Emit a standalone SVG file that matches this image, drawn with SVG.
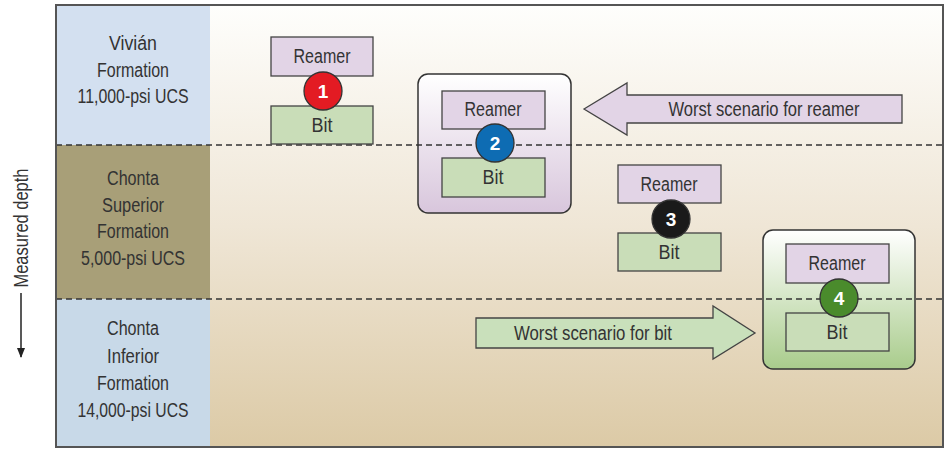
<svg xmlns="http://www.w3.org/2000/svg" width="946" height="451" viewBox="0 0 946 451">
<defs>
<linearGradient id="bg" x1="0" y1="0" x2="0" y2="1">
<stop offset="0" stop-color="#fefefc"/>
<stop offset="0.5" stop-color="#efe6d6"/>
<stop offset="1" stop-color="#dccaa6"/>
</linearGradient>
<linearGradient id="gPurple" x1="0" y1="0" x2="0" y2="1">
<stop offset="0" stop-color="#ffffff"/>
<stop offset="1" stop-color="#d8c6dc"/>
</linearGradient>
<linearGradient id="gGreen" x1="0" y1="0" x2="0" y2="1">
<stop offset="0" stop-color="#ffffff"/>
<stop offset="1" stop-color="#a9cc8c"/>
</linearGradient>
<marker id="ah" markerWidth="10" markerHeight="10" refX="9" refY="5" orient="auto" markerUnits="userSpaceOnUse" viewBox="0 0 10 10">
<path d="M0,1 L10,5 L0,9 Z" fill="#222"/>
</marker>
</defs>
<style>
text{font-family:"Liberation Sans",Arial,sans-serif;fill:#333;}
.lbl{font-size:20px;text-anchor:middle;}
.box{stroke:#444;stroke-width:1.3;}
.reamer{fill:#e2d4e6;}
.bit{fill:#c9ddb8;}
.num{font-size:19px;font-weight:bold;fill:#fff;text-anchor:middle;}
.circ{stroke:#333;stroke-width:1.3;}
.dash{stroke:#333;stroke-width:1.3;stroke-dasharray:6 4;fill:none;}
.outer{stroke:#333;stroke-width:1.5;}
.arrow{stroke:#444;stroke-width:1.3;}
</style>

<g id="background">
<rect x="56" y="5" width="887" height="442" fill="url(#bg)"/>
<rect x="56" y="5" width="154" height="140" fill="#d3e0f0"/>
<rect x="56" y="145" width="154" height="154" fill="#a89f78"/>
<rect x="56" y="299" width="154" height="148" fill="#c8d9e8"/>
</g>

<g id="formation-vivian">
<text class="lbl" x="133" y="50" textLength="48" lengthAdjust="spacingAndGlyphs">Vivián</text>
<text class="lbl" x="133" y="77" textLength="72" lengthAdjust="spacingAndGlyphs">Formation</text>
<text class="lbl" x="133" y="103" textLength="111" lengthAdjust="spacingAndGlyphs">11,000-psi UCS</text>
</g>
<g id="formation-chonta-superior">
<text class="lbl" x="133" y="185" textLength="52" lengthAdjust="spacingAndGlyphs">Chonta</text>
<text class="lbl" x="133" y="212" textLength="62" lengthAdjust="spacingAndGlyphs">Superior</text>
<text class="lbl" x="133" y="238" textLength="72" lengthAdjust="spacingAndGlyphs">Formation</text>
<text class="lbl" x="133" y="265" textLength="104" lengthAdjust="spacingAndGlyphs">5,000-psi UCS</text>
</g>
<g id="formation-chonta-inferior">
<text class="lbl" x="133" y="335" textLength="52" lengthAdjust="spacingAndGlyphs">Chonta</text>
<text class="lbl" x="133" y="363" textLength="52" lengthAdjust="spacingAndGlyphs">Inferior</text>
<text class="lbl" x="133" y="390" textLength="72" lengthAdjust="spacingAndGlyphs">Formation</text>
<text class="lbl" x="133" y="417" textLength="111" lengthAdjust="spacingAndGlyphs">14,000-psi UCS</text>
</g>

<g id="measured-depth">
<text class="lbl" x="0" y="0" transform="translate(28,228) rotate(-90)" textLength="119" lengthAdjust="spacingAndGlyphs">Measured depth</text>
<line x1="21" y1="293" x2="21" y2="357" stroke="#222" stroke-width="1.5" marker-end="url(#ah)"/>
</g>

<g id="case2">
<rect class="outer" x="418" y="74" width="153" height="139" rx="10" fill="url(#gPurple)"/>
</g>
<g id="case4">
<rect class="outer" x="763" y="230" width="152" height="139" rx="10" fill="url(#gGreen)"/>
</g>

<g id="connectors">
<line class="dash" x1="56" y1="145" x2="943" y2="145"/>
<line class="dash" x1="56" y1="299" x2="943" y2="299"/>
</g>

<g id="frame">
<rect x="56" y="5" width="887" height="442" fill="none" stroke="#555" stroke-width="2"/>
</g>

<g id="case1-nodes">
<rect class="box reamer" x="271" y="37" width="102" height="39"/>
<text class="lbl" x="322" y="63" textLength="57" lengthAdjust="spacingAndGlyphs">Reamer</text>
<rect class="box bit" x="271" y="106" width="102" height="38"/>
<text class="lbl" x="322" y="132" textLength="21" lengthAdjust="spacingAndGlyphs">Bit</text>
<circle class="circ" cx="323" cy="91" r="19" fill="#e31b23"/>
<text class="num" x="323" y="98">1</text>
</g>

<g id="case2-nodes">
<rect class="box reamer" x="442" y="91" width="103" height="38"/>
<text class="lbl" x="493" y="116" textLength="57" lengthAdjust="spacingAndGlyphs">Reamer</text>
<rect class="box bit" x="442" y="158" width="103" height="39"/>
<text class="lbl" x="493" y="184" textLength="21" lengthAdjust="spacingAndGlyphs">Bit</text>
<circle class="circ" cx="495" cy="143" r="19" fill="#0e6cb3"/>
<text class="num" x="495" y="150">2</text>
</g>

<g id="case3-nodes">
<rect class="box reamer" x="618" y="165" width="103" height="38"/>
<text class="lbl" x="669" y="191" textLength="57" lengthAdjust="spacingAndGlyphs">Reamer</text>
<rect class="box bit" x="618" y="233" width="103" height="38"/>
<text class="lbl" x="669" y="259" textLength="21" lengthAdjust="spacingAndGlyphs">Bit</text>
<circle class="circ" cx="671" cy="219" r="19" fill="#1a1a1a"/>
<text class="num" x="671" y="226">3</text>
</g>

<g id="case4-nodes">
<rect class="box reamer" x="786" y="244" width="103" height="39"/>
<text class="lbl" x="837" y="270" textLength="57" lengthAdjust="spacingAndGlyphs">Reamer</text>
<rect class="box bit" x="786" y="313" width="103" height="38"/>
<text class="lbl" x="837" y="339" textLength="21" lengthAdjust="spacingAndGlyphs">Bit</text>
<circle class="circ" cx="839" cy="298" r="19" fill="#4a8b2c"/>
<text class="num" x="839" y="305">4</text>
</g>

<g id="arrow-reamer">
<path class="arrow" d="M584,109 L627,83 L627,95 L902,95 L902,123 L627,123 L627,135 Z" fill="#e2d4e6"/>
<text class="lbl" x="764" y="116" textLength="191" lengthAdjust="spacingAndGlyphs">Worst scenario for reamer</text>
</g>

<g id="arrow-bit">
<path class="arrow" d="M476,318 L713,318 L713,306 L755,333 L713,359 L713,348 L476,348 Z" fill="#c9e0bb"/>
<text class="lbl" x="593" y="340" textLength="158" lengthAdjust="spacingAndGlyphs">Worst scenario for bit</text>
</g>
</svg>
